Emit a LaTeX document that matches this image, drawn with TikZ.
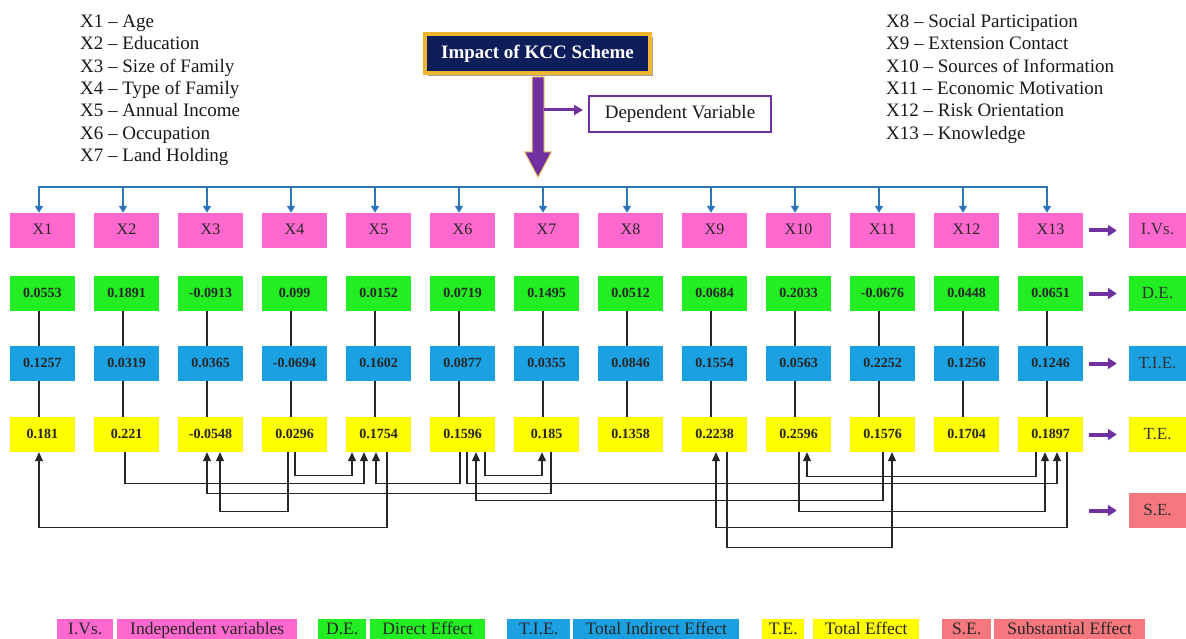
\documentclass[tikz,border=0pt]{standalone}
\usepackage{fontspec}
\setmainfont{Liberation Serif}
\usetikzlibrary{arrows.meta,shadows}
\definecolor{ivpink}{HTML}{FF69CF}
\definecolor{degreen}{HTML}{22EE22}
\definecolor{tieblue}{HTML}{1BA1E2}
\definecolor{teyellow}{HTML}{FFFF00}
\definecolor{sesalmon}{HTML}{F4787E}
\definecolor{navy}{HTML}{0D1E5A}
\definecolor{gold}{HTML}{F0B530}
\definecolor{pviolet}{HTML}{7030A0}
\definecolor{busblue}{HTML}{2E75B6}
\tikzset{
  rowbox/.style={minimum width=65pt, minimum height=35pt, inner sep=0pt, text=black!85, text height=10pt, text depth=2pt},
  ivbox/.style={rowbox, fill=ivpink, font=\fontsize{16}{18}\selectfont},
  numbox/.style={rowbox, font=\fontsize{14}{16}\selectfont\bfseries},
  labbox/.style={minimum width=57pt, minimum height=35pt, inner sep=0pt, text=black!80, text height=11pt, text depth=2pt, font=\fontsize{17}{19}\selectfont},
  legbox/.style={anchor=north west, minimum height=22pt, inner sep=0pt, text=black!85, text height=12pt, text depth=3pt, font=\fontsize{17.5}{19}\selectfont},
  listtext/.style={anchor=base west, inner sep=0pt, font=\fontsize{19}{22}\selectfont, text=black!90},
  conn/.style={draw=black!85, line width=1.2pt, -{Triangle[width=8pt,length=9pt]}},
  vline/.style={draw=black!85, line width=1.3pt},
  busline/.style={draw=busblue, line width=2pt},
  busarrow/.style={draw=busblue, line width=2pt, -{Triangle[width=8pt,length=7pt]}},
  parrow/.style={draw=pviolet, line width=4pt, -{Triangle[width=11pt,length=9pt]}},
}
\begin{document}
\begin{tikzpicture}[x=1pt,y=-1pt]
\path[use as bounding box, fill=white] (0,0) rectangle (1186,639);

% variable lists
\node[listtext] (l1) at (80,27.7) {X1 – Age};
\node[listtext] (l2) at (80,50) {X2 – Education};
\node[listtext] (l3) at (80,72.3) {X3 – Size of Family};
\node[listtext] (l4) at (80,94.6) {X4 – Type of Family};
\node[listtext] (l5) at (80,116.9) {X5 – Annual Income};
\node[listtext] (l6) at (80,139.2) {X6 – Occupation};
\node[listtext] (l7) at (80,161.5) {X7 – Land Holding};
\node[listtext] (r8) at (886,27.7) {X8 – Social Participation};
\node[listtext] (r9) at (886,50) {X9 – Extension Contact};
\node[listtext] (r10) at (886,72.3) {X10 – Sources of Information};
\node[listtext] (r11) at (886,94.6) {X11 – Economic Motivation};
\node[listtext] (r12) at (886,116.9) {X12 – Risk Orientation};
\node[listtext] (r13) at (886,139.2) {X13 – Knowledge};

% dependent variable
\node[fill=navy, draw=gold, line width=4pt, minimum width=225pt, minimum height=39pt, inner sep=0pt,
      text=white, font=\fontsize{19}{22}\selectfont\bfseries,
      drop shadow={shadow xshift=2.5pt, shadow yshift=-3pt, fill=black!50, opacity=0.7}] (impact) at (537.5,53.5) {Impact of KCC Scheme};
\fill[pviolet, draw=gold!70, line width=1pt] (532,77) -- (532,152) -- (524.5,152) -- (538,177.5) -- (551.5,152) -- (544,152) -- (544,77) -- cycle;
\coordinate (tip) at (538,177);
\node[draw=pviolet, line width=2pt, fill=white, minimum width=182pt, minimum height=36pt, inner sep=0pt,
      text=black!90, font=\fontsize{19}{22}\selectfont] (dep) at (680,114) {Dependent Variable};
\coordinate (branch) at (544,110);
\draw[draw=pviolet, line width=3pt, -{Triangle[width=10pt,length=9pt]}, shorten >=5pt] (branch) -- (dep.west |- branch);

% columns
\foreach \i/\d/\t/\e in {1/0.0553/0.1257/0.181, 2/0.1891/0.0319/0.221, 3/-0.0913/0.0365/-0.0548,
  4/0.099/-0.0694/0.0296, 5/0.0152/0.1602/0.1754, 6/0.0719/0.0877/0.1596, 7/0.1495/0.0355/0.185,
  8/0.0512/0.0846/0.1358, 9/0.0684/0.1554/0.2238, 10/0.2033/0.0563/0.2596, 11/-0.0676/0.2252/0.1576,
  12/0.0448/0.1256/0.1704, 13/0.0651/0.1246/0.1897} {
  \pgfmathsetmacro\cx{42.5+84*(\i-1)}
  \node[ivbox] (iv\i) at (\cx,230.5) {X\i};
  \node[numbox, fill=degreen] (de\i) at (\cx,293.5) {\d};
  \node[numbox, fill=tieblue] (tie\i) at (\cx,363.5) {\t};
  \node[numbox, fill=teyellow] (te\i) at (\cx,434.5) {\e};
  \coordinate (b\i) at (\cx-3.5,187);
  \draw[busarrow] (b\i) -- (b\i |- iv\i.north);
  \draw[vline] ([xshift=-3.5pt]de\i.south) -- ([xshift=-3.5pt]tie\i.north);
  \draw[vline] ([xshift=-3.5pt]tie\i.south) -- ([xshift=-3.5pt]te\i.north);
}
\draw[busline] ([xshift=-1pt]b1) -- ([xshift=1pt]b13);

% right labels
\node[labbox, fill=ivpink] (livs) at (1157.5,230.5) {I.Vs.};
\node[labbox, fill=degreen] (lde) at (1157.5,293.5) {D.E.};
\node[labbox, fill=tieblue] (ltie) at (1157.5,363.5) {T.I.E.};
\node[labbox, fill=teyellow] (lte) at (1157.5,434.5) {T.E.};
\node[labbox, fill=sesalmon] (lse) at (1157.5,510.5) {S.E.};
\draw[parrow] ([xshift=6pt]iv13.east) -- ([xshift=-12pt]livs.west);
\draw[parrow] ([xshift=6pt]de13.east) -- ([xshift=-12pt]lde.west);
\draw[parrow] ([xshift=6pt]tie13.east) -- ([xshift=-12pt]ltie.west);
\draw[parrow] ([xshift=6pt]te13.east) -- ([xshift=-12pt]lte.west);
\coordinate (se0) at (1089,510.5);
\draw[parrow] (se0) -- ([xshift=-12pt]lse.west);

% substantial effect connectors
\draw[conn] ([xshift=8.5pt]te5.south) -- ++(0,75) -| ([xshift=-3.5pt]te1.south);
\draw[conn] ([xshift=-1.5pt]te2.south) -- ++(0,31) -| ([xshift=-14.5pt]te5.south);
\draw[conn] ([xshift=-6.5pt]te4.south) -- ++(0,59) -| ([xshift=9.5pt]te3.south);
\draw[conn] ([xshift=0.5pt]te4.south) -- ++(0,23) -| ([xshift=-26.5pt]te5.south);
\draw[conn] ([xshift=-2.5pt]te6.south) -- ++(0,31) -| ([xshift=-2.5pt]te5.south);
\draw[conn] ([xshift=4.5pt]te7.south) -- ++(0,41) -| ([xshift=-3.5pt]te3.south);
\draw[conn] ([xshift=4.5pt]te6.south) -- ++(0,31) -| ([xshift=6.5pt]te13.south);
\draw[conn] ([xshift=0.5pt]te11.south) -- ++(0,48) -| ([xshift=13.5pt]te6.south);
\draw[conn] ([xshift=22.5pt]te6.south) -- ++(0,23) -| ([xshift=-4.5pt]te7.south);
\draw[conn] ([xshift=16.5pt]te13.south) -- ++(0,75) -| ([xshift=1.5pt]te9.south);
\draw[conn] ([xshift=12.5pt]te9.south) -- ++(0,95) -| ([xshift=9.5pt]te11.south);
\draw[conn] ([xshift=0.5pt]te10.south) -- ++(0,59) -| ([xshift=-5.5pt]te13.south);
\draw[conn] ([xshift=-14.5pt]te13.south) -- ++(0,24) -| ([xshift=8.5pt]te10.south);

% legend
\node[legbox, fill=ivpink, minimum width=56pt] (g1) at (57,619) {I.Vs.};
\node[legbox, fill=ivpink, minimum width=180pt] (g2) at (117,619) {Independent variables};
\node[legbox, fill=degreen, minimum width=48pt] (g3) at (318,619) {D.E.};
\node[legbox, fill=degreen, minimum width=115pt] (g4) at (370,619) {Direct Effect};
\node[legbox, fill=tieblue, minimum width=63pt] (g5) at (507,619) {T.I.E.};
\node[legbox, fill=tieblue, minimum width=166pt] (g6) at (573,619) {Total Indirect Effect};
\node[legbox, fill=teyellow, minimum width=42pt] (g7) at (762,619) {T.E.};
\node[legbox, fill=teyellow, minimum width=106pt] (g8) at (813,619) {Total Effect};
\node[legbox, fill=sesalmon, minimum width=49pt] (g9) at (942,619) {S.E.};
\node[legbox, fill=sesalmon, minimum width=151pt] (g10) at (994,619) {Substantial Effect};
\end{tikzpicture}
\end{document}
